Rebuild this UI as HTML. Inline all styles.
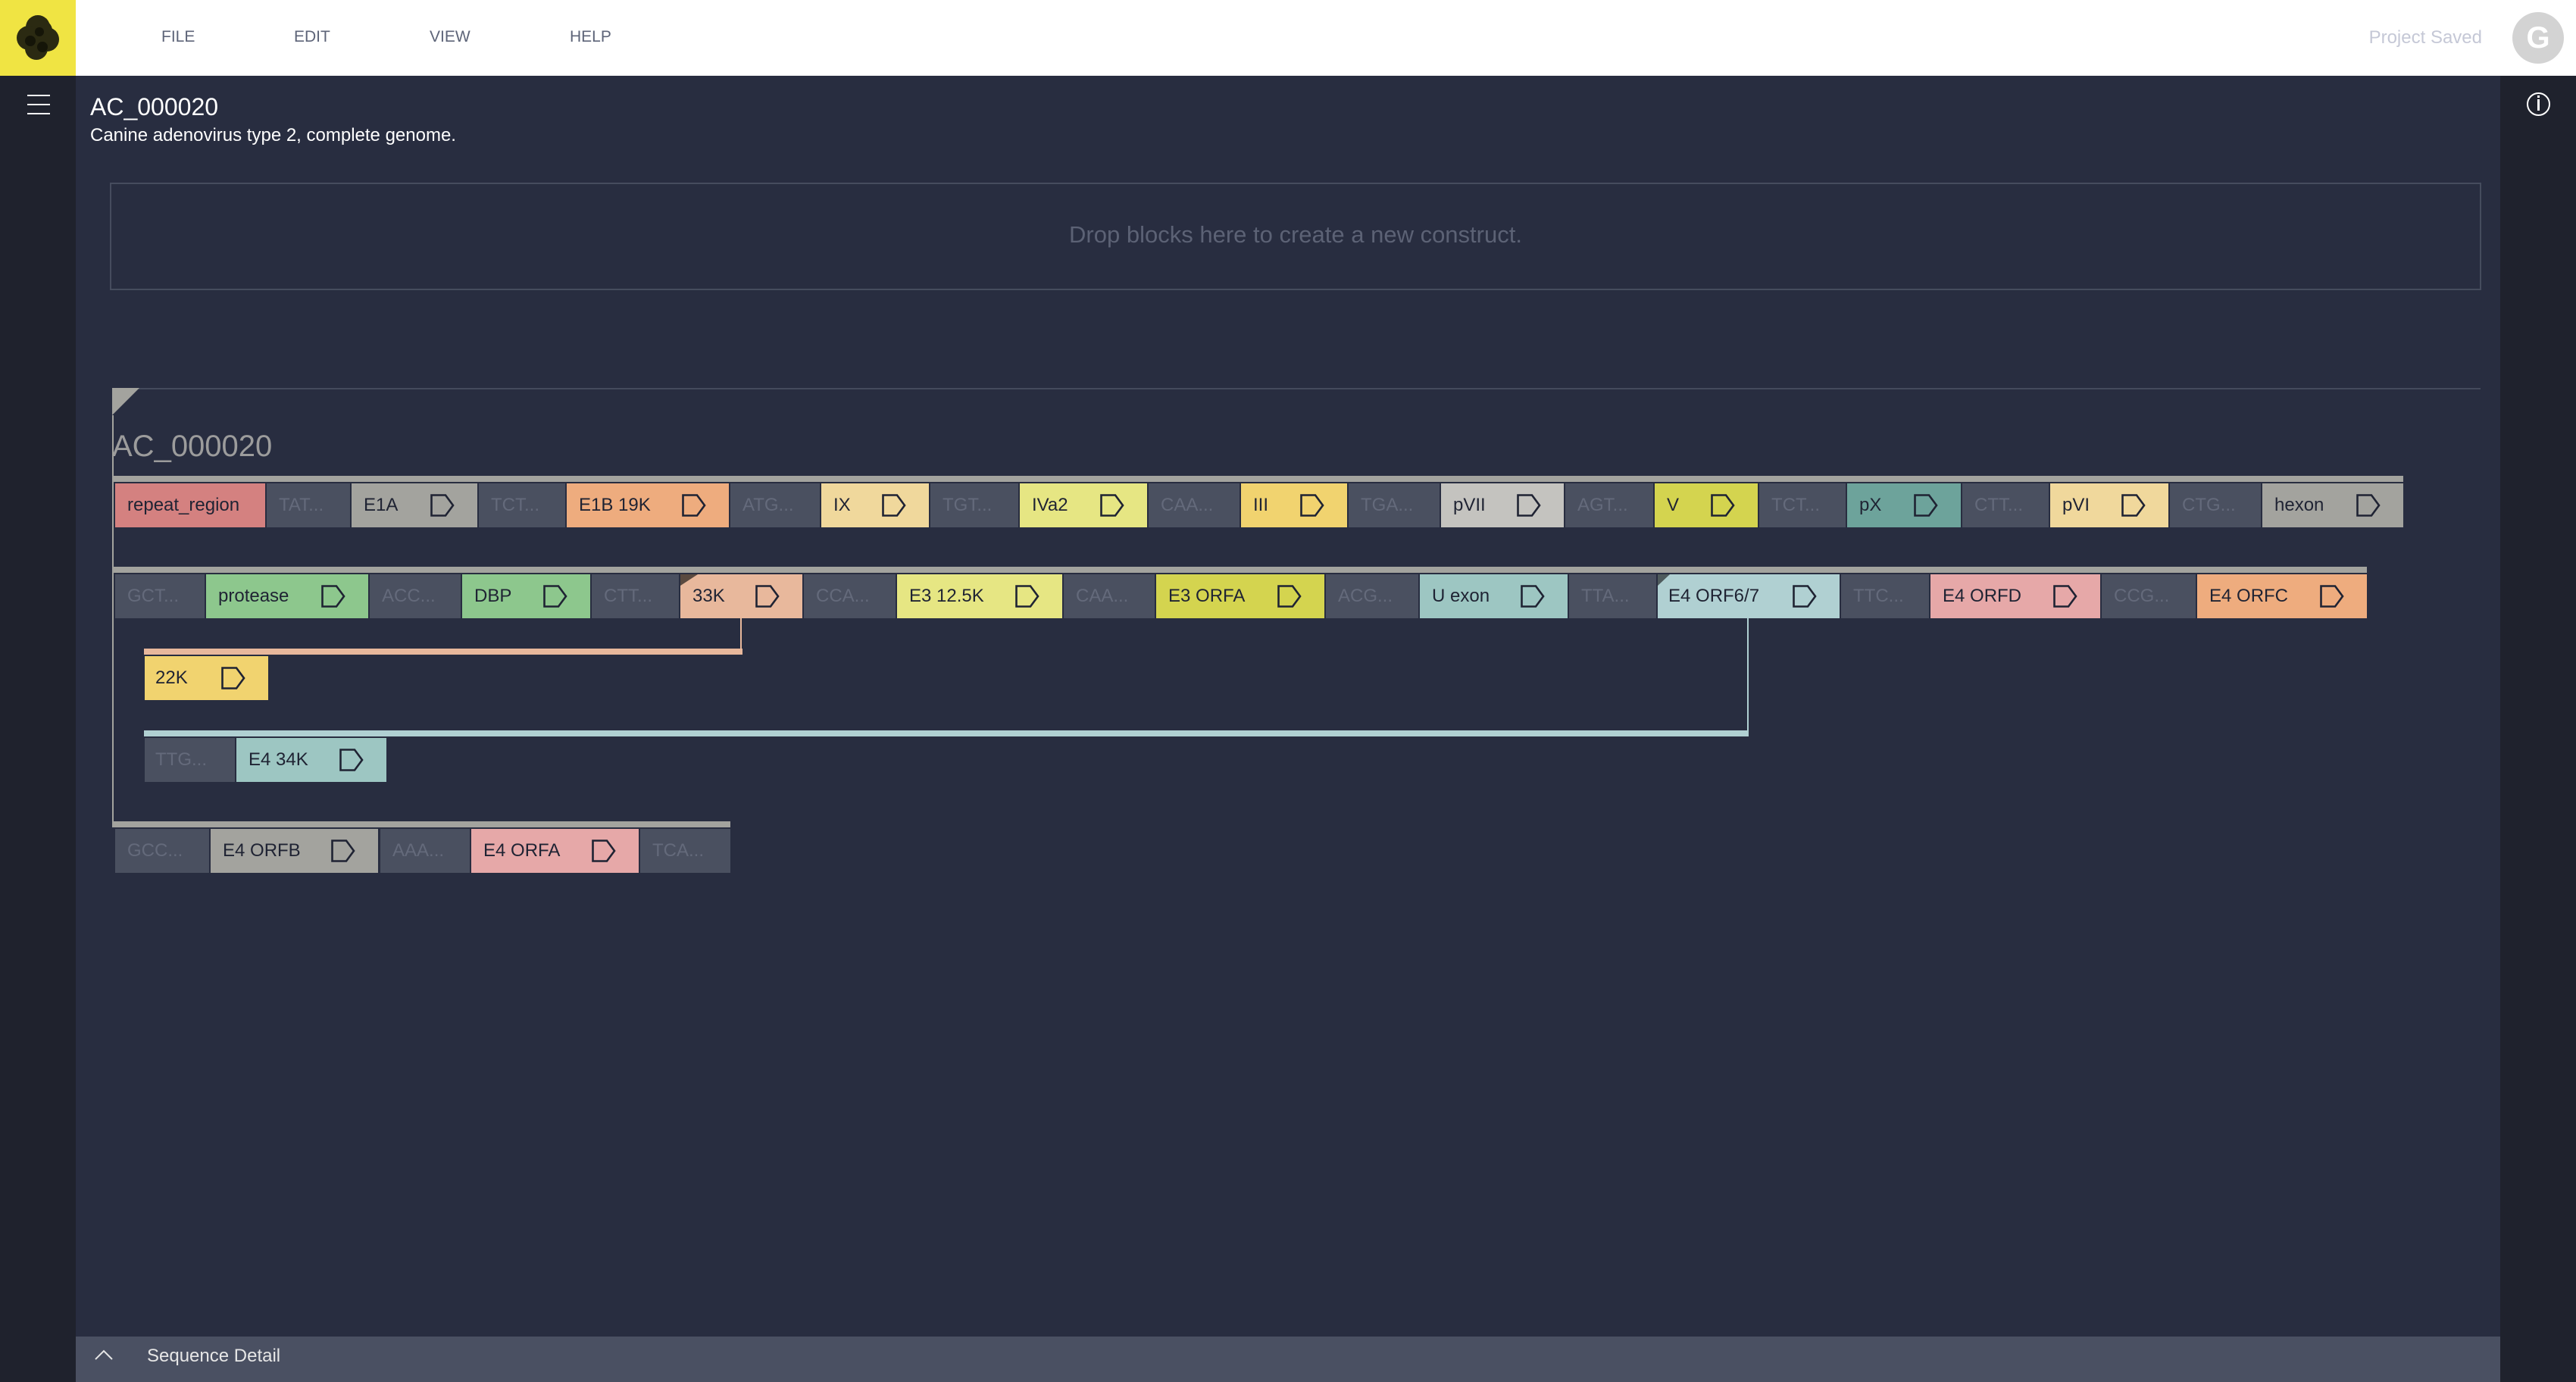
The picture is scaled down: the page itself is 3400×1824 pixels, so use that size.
<!DOCTYPE html>
<html><head><meta charset="utf-8"><style>
*{margin:0;padding:0;box-sizing:border-box}
body{width:3400px;height:1824px;background:#282d40;font-family:"Liberation Sans",Arial,sans-serif;position:relative;overflow:hidden}
.a{position:absolute}
.b{position:absolute;height:58px;line-height:58px;font-size:24px;color:#1f2333;padding-left:16px;white-space:nowrap;overflow:hidden}
.p{background:#4a5060;color:#646a7b}
.ic{position:absolute;top:14px;width:32px;height:30px}
.bar{position:absolute;height:8px;background:#a3a39e}
</style></head><body>
<div class="a" style="left:0;top:0;width:3400px;height:100px;background:#fff"></div>
<div class="a" style="left:0;top:0;width:100px;height:100px;background:#f0e443"></div>
<svg class="a" style="left:0;top:0" width="100" height="100"><g fill="#2b2a12"><circle cx="50" cy="36" r="16"/><circle cx="38" cy="50" r="16"/><circle cx="62" cy="52" r="16"/><circle cx="48" cy="64" r="15"/><circle cx="56" cy="40" r="13"/></g><g fill="#151508"><circle cx="40" cy="54" r="7"/><circle cx="56" cy="62" r="7"/><circle cx="52" cy="42" r="6"/></g></svg>
<div class="a" style="left:213px;top:38px;font-size:21px;line-height:21px;color:#5d6478">FILE</div>
<div class="a" style="left:388px;top:38px;font-size:21px;line-height:21px;color:#5d6478">EDIT</div>
<div class="a" style="left:567px;top:38px;font-size:21px;line-height:21px;color:#5d6478">VIEW</div>
<div class="a" style="left:752px;top:38px;font-size:21px;line-height:21px;color:#5d6478">HELP</div>
<div class="a" style="left:3076px;width:200px;text-align:right;top:36px;font-size:24px;line-height:28px;color:#c5c8d6">Project Saved</div>
<div class="a" style="left:3316px;top:16px;width:68px;height:68px;border-radius:50%;background:#d3d3d3;color:#fff;font-size:40px;line-height:68px;text-align:center;font-weight:bold">G</div>
<div class="a" style="left:0;top:100px;width:100px;height:1724px;background:#1f222d"></div>
<div class="a" style="left:3300px;top:100px;width:100px;height:1724px;background:#1f222d"></div>
<div class="a" style="left:36px;top:125px;width:30px;height:2px;background:#fff"></div>
<div class="a" style="left:36px;top:137px;width:30px;height:2px;background:#fff"></div>
<div class="a" style="left:36px;top:149px;width:30px;height:2px;background:#fff"></div>
<div class="a" style="left:3335px;top:122px;width:31px;height:31px;border:2px solid #fff;border-radius:50%"></div>
<div class="a" style="left:3349px;top:131px;width:3px;height:15px;background:#fff"></div>
<div class="a" style="left:3349px;top:126px;width:3px;height:3px;background:#fff"></div>
<div class="a" style="left:119px;top:125px;font-size:32px;line-height:32px;color:#fff">AC_000020</div>
<div class="a" style="left:119px;top:167px;font-size:24px;line-height:24px;color:#fff">Canine adenovirus type 2, complete genome.</div>
<div class="a" style="left:145px;top:241px;width:3130px;height:142px;border:2px solid #464c5e"></div>
<div class="a" style="left:145px;top:241px;width:3130px;height:142px;line-height:138px;text-align:center;font-size:31px;color:#5c6275">Drop blocks here to create a new construct.</div>
<div class="a" style="left:148px;top:512px;width:3126px;height:2px;background:#444a5c"></div>
<svg class="a" style="left:148px;top:512px" width="36" height="36"><polygon points="0,0 36,0 0,36" fill="#a3a39e"/></svg>
<div class="a" style="left:148px;top:569px;font-size:40px;line-height:40px;color:#9c9c9c">AC_000020</div>
<div class="a" style="left:148px;top:548px;width:2px;height:544px;background:#a3a39e"></div>
<div class="a" style="left:977px;top:816px;width:2px;height:42px;background:#e8b89c"></div>
<div class="bar" style="left:190px;top:856px;width:790px;background:#e8b89c"></div>
<div class="a" style="left:2306px;top:816px;width:2px;height:150px;background:#b0d0d2"></div>
<div class="bar" style="left:190px;top:964px;width:2118px;background:#b0d0d2"></div>
<div class="bar" style="left:148px;top:628px;width:3024px"></div>
<div class="bar" style="left:148px;top:748px;width:2976px"></div>
<div class="bar" style="left:148px;top:1084px;width:816px"></div>
<svg width="0" height="0" style="position:absolute"><defs><symbol id="ar" viewBox="0 0 32 30"><path d="M1.5 1.5 H20 L30 15 L20 28.5 H1.5 Z" fill="none" stroke="#1f2333" stroke-width="2.6"/></symbol></defs></svg>
<div class="b" style="left:152px;top:638px;width:198px;background:#d48180">repeat_region</div>
<div class="b p" style="left:352px;top:638px;width:110px">TAT...</div>
<div class="b" style="left:464px;top:638px;width:166px;background:#a3a39e">E1A<svg class="ic" style="right:30px"><use href="#ar"/></svg></div>
<div class="b p" style="left:632px;top:638px;width:114px">TCT...</div>
<div class="b" style="left:748px;top:638px;width:214px;background:#eeac7e">E1B 19K<svg class="ic" style="right:30px"><use href="#ar"/></svg></div>
<div class="b p" style="left:964px;top:638px;width:118px">ATG...</div>
<div class="b" style="left:1084px;top:638px;width:142px;background:#f0d89c">IX<svg class="ic" style="right:30px"><use href="#ar"/></svg></div>
<div class="b p" style="left:1228px;top:638px;width:116px">TGT...</div>
<div class="b" style="left:1346px;top:638px;width:168px;background:#e6e683">IVa2<svg class="ic" style="right:30px"><use href="#ar"/></svg></div>
<div class="b p" style="left:1516px;top:638px;width:120px">CAA...</div>
<div class="b" style="left:1638px;top:638px;width:140px;background:#f1d36f">III<svg class="ic" style="right:30px"><use href="#ar"/></svg></div>
<div class="b p" style="left:1780px;top:638px;width:120px">TGA...</div>
<div class="b" style="left:1902px;top:638px;width:162px;background:#c4c3bf">pVII<svg class="ic" style="right:30px"><use href="#ar"/></svg></div>
<div class="b p" style="left:2066px;top:638px;width:116px">AGT...</div>
<div class="b" style="left:2184px;top:638px;width:136px;background:#d4d44f">V<svg class="ic" style="right:30px"><use href="#ar"/></svg></div>
<div class="b p" style="left:2322px;top:638px;width:114px">TCT...</div>
<div class="b" style="left:2438px;top:638px;width:150px;background:#6da39b">pX<svg class="ic" style="right:30px"><use href="#ar"/></svg></div>
<div class="b p" style="left:2590px;top:638px;width:114px">CTT...</div>
<div class="b" style="left:2706px;top:638px;width:156px;background:#f0d89c">pVI<svg class="ic" style="right:30px"><use href="#ar"/></svg></div>
<div class="b p" style="left:2864px;top:638px;width:120px">CTG...</div>
<div class="b" style="left:2986px;top:638px;width:186px;background:#a3a39e">hexon<svg class="ic" style="right:30px"><use href="#ar"/></svg></div>
<div class="b p" style="left:152px;top:758px;width:118px">GCT...</div>
<div class="b" style="left:272px;top:758px;width:214px;background:#8dc78d">protease<svg class="ic" style="right:30px"><use href="#ar"/></svg></div>
<div class="b p" style="left:488px;top:758px;width:120px">ACC...</div>
<div class="b" style="left:610px;top:758px;width:169px;background:#8dc78d">DBP<svg class="ic" style="right:30px"><use href="#ar"/></svg></div>
<div class="b p" style="left:781px;top:758px;width:115px">CTT...</div>
<div class="b" style="left:898px;top:758px;width:161px;background:#e8b89c">33K<svg class="ic" style="right:30px"><use href="#ar"/></svg><svg class="a" style="left:0;top:0" width="24" height="16"><polygon points="0,0 23,0 0,15" fill="#5a4a40"/></svg></div>
<div class="b p" style="left:1061px;top:758px;width:121px">CCA...</div>
<div class="b" style="left:1184px;top:758px;width:218px;background:#e6e683">E3 12.5K<svg class="ic" style="right:30px"><use href="#ar"/></svg></div>
<div class="b p" style="left:1404px;top:758px;width:120px">CAA...</div>
<div class="b" style="left:1526px;top:758px;width:222px;background:#d4d44f">E3 ORFA<svg class="ic" style="right:30px"><use href="#ar"/></svg></div>
<div class="b p" style="left:1750px;top:758px;width:122px">ACG...</div>
<div class="b" style="left:1874px;top:758px;width:195px;background:#9dc6c2">U exon<svg class="ic" style="right:30px"><use href="#ar"/></svg></div>
<div class="b p" style="left:2071px;top:758px;width:115px">TTA...</div>
<div class="b" style="left:2188px;top:758px;width:240px;background:#b0d0d2;padding-left:14px">E4 ORF6/7<svg class="ic" style="right:30px"><use href="#ar"/></svg><svg class="a" style="left:0;top:0" width="24" height="16"><polygon points="0,0 16,0 0,15" fill="#4e5a5c"/></svg></div>
<div class="b p" style="left:2430px;top:758px;width:116px">TTC...</div>
<div class="b" style="left:2548px;top:758px;width:224px;background:#e6a8a8">E4 ORFD<svg class="ic" style="right:30px"><use href="#ar"/></svg></div>
<div class="b p" style="left:2774px;top:758px;width:124px">CCG...</div>
<div class="b" style="left:2900px;top:758px;width:224px;background:#eeac7e">E4 ORFC<svg class="ic" style="right:30px"><use href="#ar"/></svg></div>
<div class="b" style="left:191px;top:866px;width:163px;background:#f1d36f;padding-left:14px">22K<svg class="ic" style="right:30px"><use href="#ar"/></svg></div>
<div class="b p" style="left:191px;top:974px;width:119px;padding-left:14px">TTG...</div>
<div class="b" style="left:312px;top:974px;width:198px;background:#9dc6c2">E4 34K<svg class="ic" style="right:30px"><use href="#ar"/></svg></div>
<div class="b p" style="left:152px;top:1094px;width:124px">GCC...</div>
<div class="b" style="left:278px;top:1094px;width:221px;background:#a3a39e">E4 ORFB<svg class="ic" style="right:30px"><use href="#ar"/></svg></div>
<div class="b p" style="left:502px;top:1094px;width:118px">AAA...</div>
<div class="b" style="left:622px;top:1094px;width:221px;background:#e6a8a8">E4 ORFA<svg class="ic" style="right:30px"><use href="#ar"/></svg></div>
<div class="b p" style="left:845px;top:1094px;width:119px">TCA...</div>
<div class="a" style="left:100px;top:1764px;width:3200px;height:60px;background:#4a5062"></div>
<svg class="a" style="left:124px;top:1780px" width="28" height="16"><polyline points="2,14 13,3 24,14" fill="none" stroke="#e6e6e6" stroke-width="2"/></svg>
<div class="a" style="left:194px;top:1760px;font-size:24px;line-height:60px;color:#e6e6e6">Sequence Detail</div>
</body></html>
